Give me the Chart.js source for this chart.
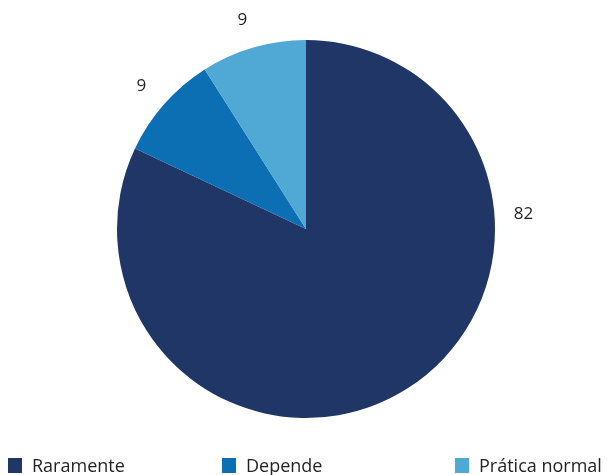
<!DOCTYPE html>
<html>
<head>
<meta charset="utf-8">
<script src="https://cdn.jsdelivr.net/npm/chart.js@4.4.0/dist/chart.umd.min.js"></script>
<style>
  body { margin: 0; background: #fff; }
  #wrap { position: relative; width: 607px; height: 475px; }
  #legend { position: absolute; left: 0; top: 454px; width: 607px; height: 20px;
            font-family: "Open Sans", "Noto Sans", sans-serif; font-size: 18px; color: #231f20; }
  .item { position: absolute; top: 0; white-space: nowrap; line-height: 22px; }
  .box { display: inline-block; width: 14px; height: 15px; vertical-align: -1px; margin-right: 10px; }
</style>
</head>
<body>
<div id="wrap">
  <canvas id="pie-chart" width="607" height="475"></canvas>
  <div id="legend"></div>
</div>
<script>
var categories = ["Raramente", "Depende", "Prática normal"];
var values = [82, 9, 9];
var colors = ["#1f3667", "#0c6fb4", "#50a8d4"];

// where Excel put the data labels (degrees clockwise from top) and legend x positions
var labelAngles = [86, 311, 343];
var legendX = [8, 222, 455];

var outsideLabels = {
  id: 'outsideLabels',
  afterDatasetsDraw: function (chart) {
    var ctx = chart.ctx;
    var arc = chart.getDatasetMeta(0).data[0];
    var cx = arc.x, cy = arc.y, r = arc.outerRadius + 29;
    ctx.save();
    ctx.font = '17px "Open Sans", "Noto Sans", sans-serif';
    ctx.fillStyle = '#231f20';
    ctx.textAlign = 'center';
    ctx.textBaseline = 'middle';
    values.forEach(function (v, i) {
      var a = labelAngles[i] * Math.PI / 180;
      ctx.fillText(String(v), cx + r * Math.sin(a), cy - r * Math.cos(a));
    });
    ctx.restore();
  }
};

var chart = new Chart(document.getElementById("pie-chart"), {
  type: 'pie',
  data: {
    labels: categories,
    datasets: [{
      data: values,
      backgroundColor: colors,
      borderWidth: 0
    }]
  },
  options: {
    responsive: false,
    animation: false,
    layout: { padding: { top: 40, bottom: 57, left: 5, right: 0 } },
    plugins: {
      legend: { display: false },
      tooltip: { enabled: false }
    }
  },
  plugins: [outsideLabels]
});

var legend = document.getElementById("legend");
categories.forEach(function (c, i) {
  var d = document.createElement("div");
  d.className = "item";
  d.style.left = legendX[i] + "px";
  d.innerHTML = '<span class="box" style="background:' + colors[i] + '"></span>' + c;
  legend.appendChild(d);
});
</script>
</body>
</html>
